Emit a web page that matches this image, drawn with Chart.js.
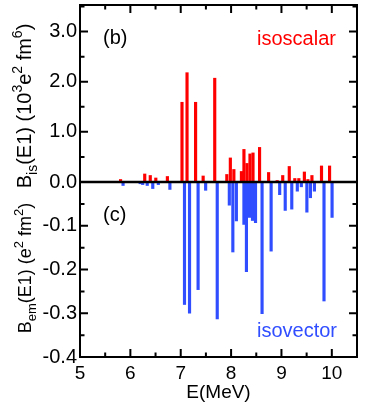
<!DOCTYPE html>
<html>
<head>
<meta charset="utf-8">
<script src="https://cdn.jsdelivr.net/npm/chart.js@4/dist/chart.umd.min.js"></script>
<style>
  html, body { margin: 0; padding: 0; background: #fff; }
  #e1Chart { display: block; }
</style>
</head>
<body>
<canvas id="e1Chart" width="374" height="408"></canvas>
<script>
// E1 transition energies (MeV) and strengths
var energies = [5.83, 6.17, 6.22, 6.31, 6.42, 6.53, 6.76, 7.05, 7.15, 7.32, 7.47, 7.70,
                7.94, 8.01, 8.08, 8.23, 8.28, 8.34, 8.40, 8.46, 8.59, 8.77, 8.94, 9.05,
                9.18, 9.29, 9.37, 9.48, 9.55, 9.63, 9.82, 9.98];
var isoscalar = [0.05, 0.01, 0.01, 0.16, 0.13, 0.08, 0.11, 1.59, 2.18, 1.59, 0.12, 2.07,
                 0.15, 0.48, 0.25, 0.21, 0.65, 0.37, 0.56, 0.58, 0.69, 0.19, 0.03, 0.13,
                 0.31, 0.07, 0.07, 0.20, 0.05, 0.13, 0.32, 0.32];
var isovector = [-0.008, -0.004, -0.006, -0.008, -0.015, -0.006, -0.017, -0.280, -0.300, -0.246, -0.019, -0.313,
                 -0.053, -0.160, -0.089, -0.097, -0.205, -0.081, -0.088, -0.093, -0.301, -0.158, -0.029, -0.065,
                 -0.062, -0.021, -0.011, -0.069, -0.036, -0.021, -0.272, -0.081];

var xTicks = [5, 6, 7, 8, 9, 10];
var xMinor = [5.5, 6.5, 7.5, 8.5, 9.5, 10.5];
var isTicks = [0, 1, 2, 3];
var isMinor = [0.5, 1.5, 2.5, 3.5];
var emTicks = [-0.4, -0.3, -0.2, -0.1];
var emMinor = [-0.35, -0.25, -0.15, -0.05];

var FONT = "'Liberation Sans', Arial, Helvetica, sans-serif";
var RED = 'rgb(255, 0, 0)';
var BLUE = 'rgb(48, 78, 255)';
Chart.defaults.font.family = FONT;
Chart.defaults.color = '#000';

function pts(vals) {
    return energies.map(function (e, i) { return { x: e, y: vals[i] }; });
}

// text with sub/superscripts, rotated for the y titles
function drawRich(ctx, parts, cx, cy, size) {
    var small = Math.round(size * 0.7);
    var w = 0;
    parts.forEach(function (p) {
        ctx.font = (p[1] ? small : size) + 'px ' + FONT;
        w += ctx.measureText(p[0]).width;
    });
    ctx.save();
    ctx.translate(cx, cy);
    ctx.rotate(-Math.PI / 2);
    ctx.textBaseline = 'alphabetic';
    ctx.textAlign = 'left';
    ctx.fillStyle = '#000';
    var x = -w / 2;
    parts.forEach(function (p) {
        ctx.font = (p[1] ? small : size) + 'px ' + FONT;
        var dy = p[1] === 1 ? size * 0.28 : (p[1] === 2 ? -size * 0.45 : 0);
        ctx.fillText(p[0], x, dy);
        x += ctx.measureText(p[0]).width;
    });
    ctx.restore();
}

var framePlugin = {
    id: 'frame',
    afterDatasetsDraw: function (chart) {
        var ctx = chart.ctx, a = chart.chartArea;
        var sx = chart.scales.x, si = chart.scales.yIs, se = chart.scales.yEm;
        ctx.save();
        ctx.strokeStyle = '#000';
        ctx.lineWidth = 2;
        ctx.beginPath();
        function hTick(v, len) {
            var px = sx.getPixelForValue(v);
            ctx.moveTo(px, a.bottom); ctx.lineTo(px, a.bottom - len);
            ctx.moveTo(px, a.top); ctx.lineTo(px, a.top + len);
        }
        function vTick(scale, v, len) {
            var py = scale.getPixelForValue(v);
            ctx.moveTo(a.left, py); ctx.lineTo(a.left + len, py);
            ctx.moveTo(a.right, py); ctx.lineTo(a.right - len, py);
        }
        xTicks.forEach(function (v) { hTick(v, 8); });
        xMinor.forEach(function (v) { hTick(v, 4.5); });
        isTicks.forEach(function (v) { vTick(si, v, 8); });
        isMinor.forEach(function (v) { vTick(si, v, 4.5); });
        emTicks.forEach(function (v) { vTick(se, v, 8); });
        emMinor.forEach(function (v) { vTick(se, v, 4.5); });
        ctx.stroke();
        ctx.strokeRect(a.left, a.top, a.right - a.left, a.bottom - a.top);
        // zero line shared by both panels
        var y0 = si.getPixelForValue(0);
        ctx.lineWidth = 2.5;
        ctx.beginPath();
        ctx.moveTo(a.left, y0); ctx.lineTo(a.right, y0);
        ctx.stroke();

        ctx.textBaseline = 'alphabetic';
        ctx.textAlign = 'left';
        ctx.font = '20px ' + FONT;
        ctx.fillStyle = '#000';
        ctx.fillText('(b)', a.left + 23, 44);
        ctx.fillText('(c)', a.left + 23, 221);
        ctx.fillStyle = RED;
        ctx.fillText('isoscalar', 257, 45);
        ctx.fillStyle = BLUE;
        ctx.fillText('isovector', 257, 337);

        drawRich(ctx, [['B', 0], ['is', 1], ['(E1) (10', 0], ['3', 2], ['e', 0], ['2', 2], [' fm', 0], ['6', 2], [')', 0]], 31, 106, 20);
        drawRich(ctx, [['B', 0], ['em', 1], ['(E1) (e', 0], ['2', 2], [' fm', 0], ['2', 2], [')', 0]], 31, 268, 18);
        ctx.restore();
    }
};

var xFont = { size: 19 };
var yFont = { size: 20 };

function fitY(s) {
    s.width = 80;
    s.paddingTop = 0;
    s.paddingBottom = 0;
}

var e1Chart = new Chart(document.getElementById('e1Chart'), {
    type: 'bar',
    data: {
        datasets: [{
            label: 'isoscalar',
            data: pts(isoscalar),
            yAxisID: 'yIs',
            backgroundColor: RED,
            borderWidth: 0,
            barThickness: 2.5
        }, {
            label: 'isovector',
            data: pts(isovector),
            yAxisID: 'yEm',
            backgroundColor: BLUE,
            borderWidth: 0,
            barThickness: 2.5
        }]
    },
    options: {
        responsive: false,
        animation: false,
        layout: { padding: { top: 5, right: 17, left: 0, bottom: 0 } },
        plugins: { legend: { display: false }, tooltip: { enabled: false } },
        scales: {
            x: {
                type: 'linear',
                min: 5,
                max: 10.5,
                offset: false,
                grid: { display: false, drawTicks: false },
                border: { display: false },
                afterBuildTicks: function (s) { s.ticks = xTicks.map(function (v) { return { value: v }; }); },
                ticks: { font: xFont, padding: 5, maxRotation: 0, autoSkip: false,
                    callback: function (v) { return String(v); } },
                title: { display: true, text: 'E(MeV)', font: { size: 19 }, padding: { top: 0, bottom: 4 } },
                afterFit: function (s) { s.height = 51; s.paddingLeft = 0; s.paddingRight = 0; }
            },
            // the first axis of a stack is placed at the bottom
            yEm: {
                type: 'linear',
                position: 'left',
                stack: 'panels',
                stackWeight: 175,
                min: -0.4,
                max: 0,
                grid: { display: false, drawTicks: false },
                border: { display: false },
                afterBuildTicks: function (s) { s.ticks = emTicks.map(function (v) { return { value: v }; }); },
                ticks: { font: yFont, padding: 3,
                    callback: function (v) { return Number(v).toFixed(1); } },
                afterFit: fitY
            },
            yIs: {
                type: 'linear',
                position: 'left',
                stack: 'panels',
                stackWeight: 177,
                min: 0,
                max: 3.53,
                grid: { display: false, drawTicks: false },
                border: { display: false },
                afterBuildTicks: function (s) { s.ticks = isTicks.map(function (v) { return { value: v }; }); },
                ticks: { font: yFont, padding: 3,
                    callback: function (v) { return Number(v).toFixed(1); } },
                afterFit: fitY
            }
        }
    },
    plugins: [framePlugin]
});
</script>
</body>
</html>
